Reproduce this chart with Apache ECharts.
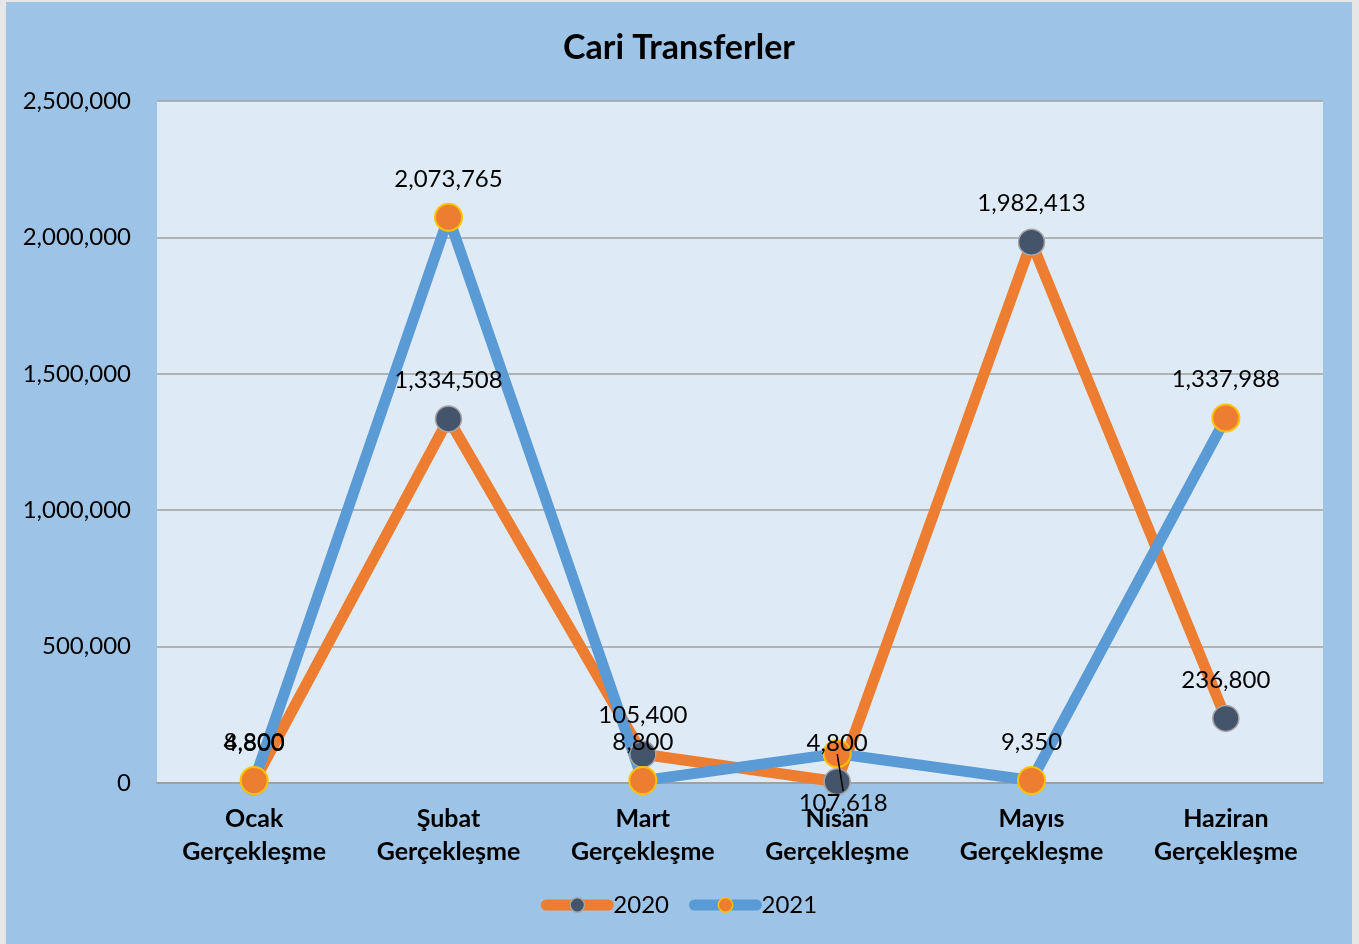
<!DOCTYPE html>
<html>
<head>
<meta charset="utf-8">
<script src="https://cdn.jsdelivr.net/npm/echarts@6/dist/echarts.min.js"></script>
<style>
  html, body { margin: 0; padding: 0; background: #e6e6e6; }
  #chart { position: absolute; left: 6px; top: 2px; width: 1346px; height: 942px; }
</style>
</head>
<body>
<div id="chart"></div>
<script>
var categories = ['Ocak\nGerçekleşme', 'Şubat\nGerçekleşme', 'Mart\nGerçekleşme', 'Nisan\nGerçekleşme', 'Mayıs\nGerçekleşme', 'Haziran\nGerçekleşme']
var values2020 = [4800, 1334508, 105400, 4800, 1982413, 236800]
var values2021 = [8800, 2073765, 8800, 107618, 9350, 1337988]
var yTicks = [0, 500000, 1000000, 1500000, 2000000, 2500000]

var FONT = 'Lato'
function fmt (v) { return Number(v).toLocaleString('en-US') }

var labelStyle = {
    show: true,
    position: 'top',
    distance: 26,
    fontFamily: FONT,
    fontSize: 24,
    color: '#000',
    formatter: function (p) { return fmt(p.value) }
}

// label-only copies drawn above both lines
function labelSeries (name, data, moved) {
    return {
        name: name,
        type: 'line',
        data: data.map(function (v, i) {
            if (i === moved) {
                return { value: v, labelLine: { show: true, lineStyle: { color: '#000', width: 1.5 } } }
            }
            return v
        }),
        symbol: 'circle',
        symbolSize: 1,
        showSymbol: true,
        itemStyle: { color: 'rgba(0,0,0,0)' },
        lineStyle: { color: 'rgba(0,0,0,0)', width: 0 },
        label: labelStyle,
        labelLayout: function (p) {
            if (p.dataIndex === moved) return { dy: 88, dx: 6 }
            return {}
        },
        silent: true,
        z: 10
    }
}

var myChart = echarts.init(document.getElementById('chart'))
var option = {
    backgroundColor: '#9dc3e6',
    textStyle: { fontFamily: FONT },
    title: {
        text: 'Cari Transferler',
        left: 'center',
        top: 24,
        textStyle: { fontFamily: FONT, fontSize: 34, fontWeight: 'bold', color: '#000' }
    },
    grid: {
        left: 151, right: 29, top: 99, bottom: 161,
        show: true, backgroundColor: '#deebf7', borderWidth: 0
    },
    legend: {
        bottom: 22,
        left: 'center',
        itemWidth: 62,
        itemHeight: 18,
        itemGap: 20,
        itemStyle: { borderWidth: 1.5 },
        textStyle: { fontFamily: FONT, fontSize: 24, color: '#000' },
        data: [
            { name: '2020', lineStyle: { width: 11, cap: 'round' } },
            { name: '2021', lineStyle: { width: 11, cap: 'round' } }
        ]
    },
    xAxis: {
        type: 'category',
        data: categories,
        axisLine: { lineStyle: { color: '#a0a0a0', width: 2 } },
        axisTick: { show: false },
        axisLabel: {
            fontFamily: FONT, fontSize: 25, fontWeight: 'bold', color: '#000',
            lineHeight: 33, margin: 19
        }
    },
    yAxis: {
        type: 'value',
        min: yTicks[0],
        max: yTicks[yTicks.length - 1],
        interval: 500000,
        axisLine: { show: false },
        axisTick: { show: false },
        splitLine: { lineStyle: { color: '#a0a0a0', width: 1.5 } },
        axisLabel: {
            fontFamily: FONT, fontSize: 24, color: '#000', margin: 26,
            formatter: function (v) { return fmt(v) }
        }
    },
    series: [
        {
            name: '2020',
            type: 'line',
            data: values2020,
            symbol: 'circle',
            symbolSize: 26,
            lineStyle: { color: '#ed7d31', width: 11 },
            itemStyle: { color: '#44546a', borderColor: '#a5a5a5', borderWidth: 1.5 },
            z: 2
        },
        {
            name: '2021',
            type: 'line',
            data: values2021,
            symbol: 'circle',
            symbolSize: 27,
            lineStyle: { color: '#5b9bd5', width: 11 },
            itemStyle: { color: '#ed7d31', borderColor: '#ffc000', borderWidth: 2 },
            z: 2
        },
        labelSeries('etiket2020', values2020, -1),
        labelSeries('etiket2021', values2021, 3)
    ]
}
myChart.setOption(option)
</script>
</body>
</html>
